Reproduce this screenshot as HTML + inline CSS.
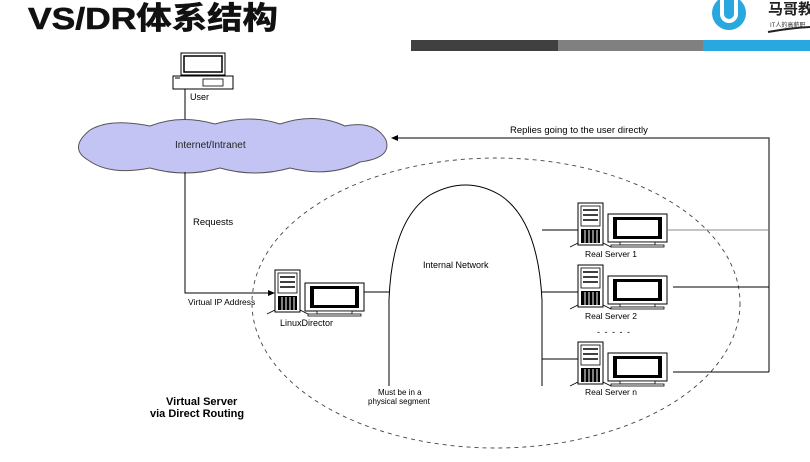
<!DOCTYPE html>
<html><head><meta charset="utf-8"><style>
body{margin:0;width:810px;height:457px;background:#fff;overflow:hidden;font-family:"Liberation Sans",Arial,sans-serif}
</style></head><body>
<svg width="810" height="457" viewBox="0 0 810 457" xmlns="http://www.w3.org/2000/svg" font-family="Liberation Sans, Arial, sans-serif">
<defs>
<g id="tower">
 <rect x="0" y="0" width="25" height="42" fill="#fff" stroke="#000" stroke-width="1"/>
 <rect x="3" y="3" width="19" height="20" fill="#fff" stroke="#000" stroke-width="0.8"/>
 <line x1="5" y1="7" x2="20" y2="7" stroke="#000" stroke-width="1.5"/>
 <line x1="5" y1="12" x2="20" y2="12" stroke="#000" stroke-width="1.5"/>
 <line x1="5" y1="17" x2="20" y2="17" stroke="#000" stroke-width="1.5"/>
 <rect x="3" y="26" width="19" height="14" fill="#000"/>
 <g stroke="#fff" stroke-width="1"><line x1="7" y1="27" x2="7" y2="40"/><line x1="11" y1="27" x2="11" y2="40"/><line x1="15" y1="27" x2="15" y2="40"/><line x1="19" y1="27" x2="19" y2="40"/></g>
 <path d="M-8 44 L0 40 M25 40 L33 44" stroke="#000" stroke-width="0.8"/>
</g>
<g id="mon">
 <rect x="0" y="0" width="59" height="28" fill="#fff" stroke="#000" stroke-width="1"/>
 <rect x="5" y="3" width="49" height="22" fill="#000"/>
 <rect x="9" y="6" width="41" height="16" fill="#fff"/>
 <rect x="12" y="28" width="35" height="3" fill="#fff" stroke="#000" stroke-width="0.8"/>
 <rect x="3" y="31" width="53" height="2" fill="#fff" stroke="#000" stroke-width="0.8"/>
</g>
</defs>
<text x="28" y="29" font-size="31" font-weight="bold" textLength="250" lengthAdjust="spacingAndGlyphs" font-family="Liberation Sans, Noto Sans CJK SC, sans-serif" fill="#111" stroke="#111" stroke-width="0.6">VS/DR体系结构</text>
<circle cx="729" cy="13" r="17" fill="#29a8e0"/>
<path d="M722 0 v14 a7 7 0 0 0 14 0 v-14" fill="none" stroke="#fff" stroke-width="4"/>
<text x="768" y="14" font-size="15" font-weight="bold" font-family="Liberation Sans, Noto Sans CJK SC, sans-serif" fill="#222">马哥教</text>
<text x="770" y="27" font-size="6" font-family="Noto Sans CJK SC, sans-serif" fill="#333">IT人的高薪职</text>
<path d="M768 32 Q790 28 810 27" stroke="#222" stroke-width="2" fill="none"/>
<rect x="411" y="40" width="147" height="11" fill="#404040"/>
<rect x="558" y="40" width="145" height="11" fill="#808080"/>
<rect x="703" y="40" width="107" height="11" fill="#29a8e0"/>
<rect x="181" y="53" width="44" height="22" fill="#fff" stroke="#000"/>
<rect x="184" y="56" width="38" height="16" fill="#fff" stroke="#000" stroke-width="1.5"/>
<rect x="173" y="76" width="60" height="13" fill="#fff" stroke="#000"/>
<rect x="203" y="79" width="20" height="7" fill="#fff" stroke="#000" stroke-width="0.8"/>
<line x1="175" y1="78" x2="180" y2="78" stroke="#000"/>
<text x="190" y="100" font-size="9">User</text>
<line x1="185" y1="89" x2="185" y2="125" stroke="#000"/>
<path d="M90 130 Q110 118 150 126 Q180 114 215 124 Q250 114 280 124 Q315 112 345 126 Q375 120 386 140 Q392 158 360 162 Q330 178 290 168 Q255 178 220 168 Q185 178 150 168 Q110 176 88 160 Q68 148 90 130Z" fill="#c4c4f4" stroke="#555" stroke-width="1"/>
<text x="175" y="148" font-size="10" fill="#222">Internet/Intranet</text>
<polyline points="185,172 185,293 268,293" fill="none" stroke="#000"/>
<path d="M268 290 L275 293 L268 296Z" fill="#000"/>
<text x="193" y="225" font-size="9.5">Requests</text>
<text x="188" y="305" font-size="8.5">Virtual IP Address</text>
<polyline points="769,372 769,138 398,138" fill="none" stroke="#555" stroke-width="1.5"/>
<path d="M398 135 L391 138 L398 141Z" fill="#000"/>
<text x="510" y="133" font-size="9.5">Replies going to the user directly</text>
<ellipse cx="496" cy="303" rx="244" ry="145" fill="none" stroke="#444" stroke-width="0.9" stroke-dasharray="4,4"/>
<path d="M389 386 L389 300 Q392 220 430 195 Q466 175 500 195 Q538 220 542 300 L542 386" fill="none" stroke="#000" stroke-width="1"/>
<text x="423" y="268" font-size="9">Internal Network</text>
<text x="378" y="395" font-size="8">Must be in a</text>
<text x="368" y="404" font-size="8">physical segment</text>
<use href="#tower" x="275" y="270"/>
<use href="#mon" x="305" y="283"/>
<line x1="364" y1="292" x2="389" y2="292" stroke="#000"/>
<text x="280" y="326" font-size="9">LinuxDirector</text>
<use href="#tower" x="578" y="203"/><use href="#mon" x="608" y="214"/>
<line x1="542" y1="230" x2="578" y2="230" stroke="#000"/>
<line x1="667" y1="230" x2="769" y2="230" stroke="#888"/>
<text x="585" y="257" font-size="8.5">Real Server 1</text>
<use href="#tower" x="578" y="265"/><use href="#mon" x="608" y="276"/>
<line x1="542" y1="292" x2="578" y2="292" stroke="#000"/>
<line x1="673" y1="287" x2="769" y2="287" stroke="#000"/>
<text x="585" y="319" font-size="8.5">Real Server 2</text>
<text x="597" y="335" font-size="9" letter-spacing="1">- - - - -</text>
<use href="#tower" x="578" y="342"/><use href="#mon" x="608" y="353"/>
<line x1="542" y1="359" x2="578" y2="359" stroke="#000"/>
<line x1="673" y1="372" x2="769" y2="372" stroke="#000"/>
<text x="585" y="395" font-size="8.5">Real Server n</text>
<text x="166" y="405" font-size="11" font-weight="bold">Virtual Server</text>
<text x="150" y="417" font-size="11" font-weight="bold">via Direct Routing</text>
</svg>
</body></html>
